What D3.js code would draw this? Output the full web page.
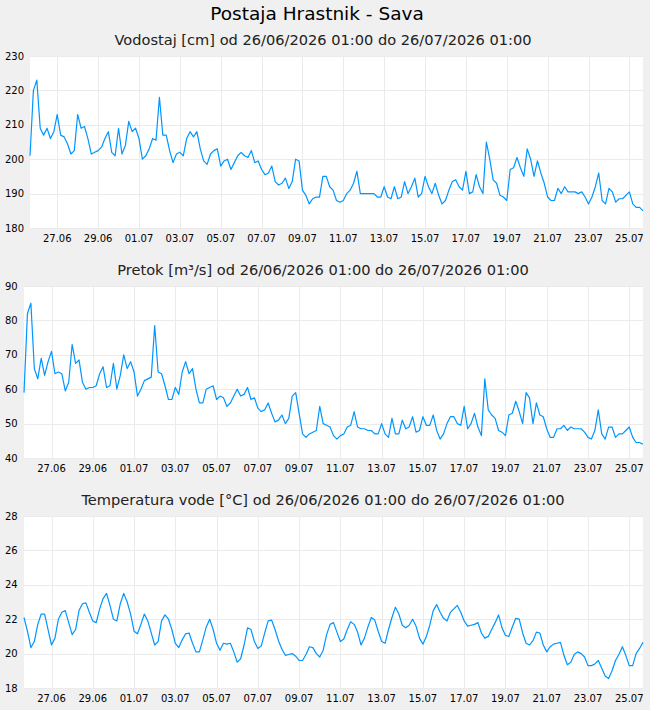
<!DOCTYPE html>
<html><head><meta charset="utf-8">
<script src="https://cdn.jsdelivr.net/npm/d3@7"></script>
<style>
html,body{margin:0;padding:0;background:#f0f0f0;}
svg{display:block;font-family:"DejaVu Sans",sans-serif;}
</style></head><body>
<svg id="chart" width="650" height="710"></svg>
<script>
const chartTitle = "Postaja Hrastnik - Sava";
const panelTitles = [
  "Vodostaj [cm] od 26/06/2026 01:00 do 26/07/2026 01:00",
  "Pretok [m³/s] od 26/06/2026 01:00 do 26/07/2026 01:00",
  "Temperatura vode [°C] od 26/06/2026 01:00 do 26/07/2026 01:00"
];
const startTime = Date.UTC(2026, 5, 26, 1);
const endTime = Date.UTC(2026, 6, 26, 1);
const stepHours = 4;
const xTickLabels = ["27.06","29.06","01.07","03.07","05.07","07.07","09.07","11.07","13.07","15.07","17.07","19.07","21.07","23.07","25.07"];

const levelTicks = [180, 190, 200, 210, 220, 230];
const flowTicks = [40, 50, 60, 70, 80, 90];
const tempTicks = [18, 20, 22, 24, 26, 28];

// Vodostaj [cm], 4-hourly
const levelValues = [
  201, 220, 223, 209, 207, 209, 206, 208, 213, 207,
  206.5, 204.5, 201.5, 202.5, 213, 209, 209.5, 206, 201.5, 202,
  202.5, 203.5, 206, 208, 202, 201, 209, 201.5, 204, 211,
  208, 209, 206, 200, 201, 203, 206, 205.5, 218, 207,
  207, 202.5, 199, 201.5, 202, 201, 206, 208, 206.5, 208,
  203, 199.5, 198.5, 201.5, 202.5, 203, 198, 199.5, 200, 197,
  199, 201, 202, 201, 200.5, 202.5, 199, 199.5, 197, 195.5,
  196, 198, 193.5, 192.5, 193, 194.5, 191.5, 193.5, 200, 199.5,
  191, 189.5, 187, 188.5, 189, 189, 195, 195, 192, 191,
  188, 187.5, 188, 190, 191, 193, 196.5, 190, 190, 190,
  190, 190, 189, 189, 192, 189, 188.5, 192, 188.5, 189,
  193.5, 190, 192, 194.5, 189, 190, 195, 192, 190, 193,
  189.5, 187, 188, 191, 193.5, 194, 192, 191, 196.5, 190,
  190.5, 195.5, 192, 190, 205, 200, 194, 193, 189.5, 189,
  188, 197, 197.5, 200.5, 197.5, 195, 203, 200, 195, 199.5,
  196, 193, 189, 188, 188, 191.5, 190, 192, 190.5, 190.5,
  190.5, 190, 190.5, 189, 187, 189, 192, 196, 188, 187,
  191.5, 190.5, 187.5, 188.5, 188.5, 189.5, 190.5, 187, 186, 186,
  185
];

// Pretok [m³/s], 4-hourly
const flowValues = [
  59, 82, 85, 66, 63, 69, 64, 68, 71, 64.5,
  65, 64.5, 59.5, 62, 73, 67.5, 68.5, 62, 60, 60.5,
  60.5, 61, 64.5, 66.5, 60.5, 61, 67.5, 60, 64, 70,
  66, 68, 65, 58, 60, 62.5, 63, 63.5, 78.5, 65,
  64.5, 61, 57, 57, 60.5, 58.5, 65, 68, 64.5, 66,
  60, 56, 56, 60, 60.5, 61, 57, 58, 57.5, 55,
  56, 58, 60, 58, 58.5, 60.5, 57, 57.5, 54.5, 53.5,
  54, 56, 53, 50.5, 51, 52.5, 50, 51.5, 58, 59,
  53, 47, 46, 47, 47.5, 48, 55, 50, 49.5, 49,
  46.5, 45.5, 46.5, 47, 49, 49.5, 53.5, 49, 48.5, 48.5,
  48, 48, 47, 47, 50, 47, 46, 51.5, 47, 47,
  51, 48.5, 49, 52, 47.5, 48, 52, 49.5, 49.5, 52.5,
  48, 45.5, 47, 50, 52, 52, 50, 49.5, 55, 48.5,
  50, 53, 49, 46.5, 63, 54, 52.5, 51.5, 48, 47.5,
  46.5, 52.5, 53, 56.5, 53.5, 50, 59, 57.5, 50, 56,
  52.5, 52, 48.5, 46, 46, 48.5, 48.5, 49.5, 48, 49,
  48.5, 48.5, 48.5, 47.5, 46, 45.5, 48, 54, 47, 45.5,
  49, 49, 46, 47, 47, 48, 49, 46, 44.5, 44.5,
  44
];

// Temperatura vode [°C], 4-hourly
const tempValues = [
  22.1, 21.3, 20.35, 20.7, 21.7, 22.3, 22.3, 21.4, 20.5, 20.9,
  22, 22.4, 22.5, 21.8, 21.1, 21.4, 22.5, 22.9, 22.95, 22.4,
  21.9, 21.8, 22.6, 23.2, 23.5, 22.8, 22, 21.9, 22.9, 23.5,
  23, 22.3, 21.3, 21.15, 21.7, 22.3, 21.9, 21.2, 20.5, 20.7,
  21.9, 22.25, 22, 21.4, 20.6, 20.35, 20.8, 21.15, 21.2, 20.6,
  20.1, 20.1, 20.8, 21.55, 22, 21.4, 20.6, 20.2, 20.6, 20.55,
  20.6, 20.1, 19.5, 19.7, 20.5, 21.5, 21.4, 20.7, 20.3, 20.45,
  21.2, 21.9, 21.95, 21.4, 20.75, 20.25, 19.9, 19.95, 20, 19.85,
  19.6, 19.6, 19.95, 20.4, 20.35, 20, 19.8, 20.2, 21.1, 21.7,
  21.8, 21.25, 20.7, 20.85, 21.4, 21.85, 21.7, 21.25, 20.5, 20.9,
  21.55, 22.1, 21.95, 21.3, 20.7, 20.6, 21.4, 22.1, 22.7, 22.3,
  21.65, 21.5, 21.65, 22, 21.6, 20.9, 20.55, 21, 21.65, 22.5,
  22.85, 22.4, 22.05, 21.9, 22.4, 22.6, 22.8, 22.4, 21.9, 21.6,
  21.65, 21.7, 21.8, 21.2, 20.9, 21, 21.4, 21.8, 22.25, 21.5,
  21.05, 21, 21.55, 22.05, 22, 21.2, 20.6, 20.5, 20.75, 21.25,
  21.2, 20.5, 20.1, 20.4, 20.55, 20.6, 20.65, 19.9, 19.35, 19.5,
  19.95, 20.1, 20.0, 19.8, 19.3, 19.3, 19.4, 19.6, 19.15, 18.7,
  18.55, 19, 19.6, 19.95, 20.4, 19.9, 19.3, 19.3, 20, 20.3,
  20.65
];

const HOUR = 3600 * 1000;
const tickDates = xTickLabels.map((_, i) => new Date(startTime + (32 + 48 * i) * HOUR));
const toSeries = vals => vals.map((v, i) => ({ t: new Date(startTime + i * stepHours * HOUR), v }));

const panels = [
  { title: panelTitles[0], values: levelValues, ticks: levelTicks, left: 30, top: 56, bottom: 228, titleY: 45 },
  { title: panelTitles[1], values: flowValues, ticks: flowTicks, left: 24, top: 286, bottom: 458, titleY: 275 },
  { title: panelTitles[2], values: tempValues, ticks: tempTicks, left: 24, top: 516, bottom: 688, titleY: 505 }
];
const right = 643;

const svg = d3.select("#chart");
svg.append("rect").attr("width", 650).attr("height", 710).attr("fill", "#f0f0f0");

svg.append("text").attr("x", 317).attr("y", 20).attr("text-anchor", "middle")
  .attr("font-size", 18.5).attr("fill", "#000").text(chartTitle);

panels.forEach(p => {
  const x = d3.scaleUtc().domain([new Date(startTime), new Date(endTime)]).range([p.left, right]);
  const y = d3.scaleLinear().domain([p.ticks[0], p.ticks[p.ticks.length - 1]]).range([p.bottom, p.top]);

  svg.append("text").attr("x", 323).attr("y", p.titleY).attr("text-anchor", "middle")
    .attr("font-size", 14.6).attr("fill", "#222").text(p.title);

  svg.append("rect").attr("x", p.left).attr("y", p.top)
    .attr("width", right - p.left).attr("height", p.bottom - p.top).attr("fill", "#fff");

  const g = svg.append("g");
  g.selectAll("line.h").data(p.ticks).join("line")
    .attr("x1", p.left).attr("x2", right)
    .attr("y1", d => Math.round(y(d)) + 0.5).attr("y2", d => Math.round(y(d)) + 0.5)
    .attr("stroke", "#ebebeb").attr("stroke-width", 1);
  g.selectAll("line.v").data(tickDates).join("line")
    .attr("x1", d => Math.round(x(d)) + 0.5).attr("x2", d => Math.round(x(d)) + 0.5)
    .attr("y1", p.top).attr("y2", p.bottom)
    .attr("stroke", "#ebebeb").attr("stroke-width", 1);

  g.selectAll("text.yl").data(p.ticks).join("text")
    .attr("x", 5).attr("y", d => y(d)).attr("dy", "0.35em")
    .attr("font-size", 10).attr("fill", "#000").text(d => d);

  g.selectAll("text.xl").data(tickDates).join("text")
    .attr("x", d => x(d)).attr("y", p.bottom + 13.5).attr("text-anchor", "middle")
    .attr("font-size", 10).attr("fill", "#000").text((d, i) => xTickLabels[i]);

  const line = d3.line().x(d => x(d.t)).y(d => y(d.v)).curve(d3.curveLinear);
  svg.append("path").datum(toSeries(p.values))
    .attr("d", line).attr("fill", "none").attr("stroke", "#0096ff").attr("stroke-width", 1.2)
    .attr("stroke-linejoin", "round");
});
</script>
</body></html>
